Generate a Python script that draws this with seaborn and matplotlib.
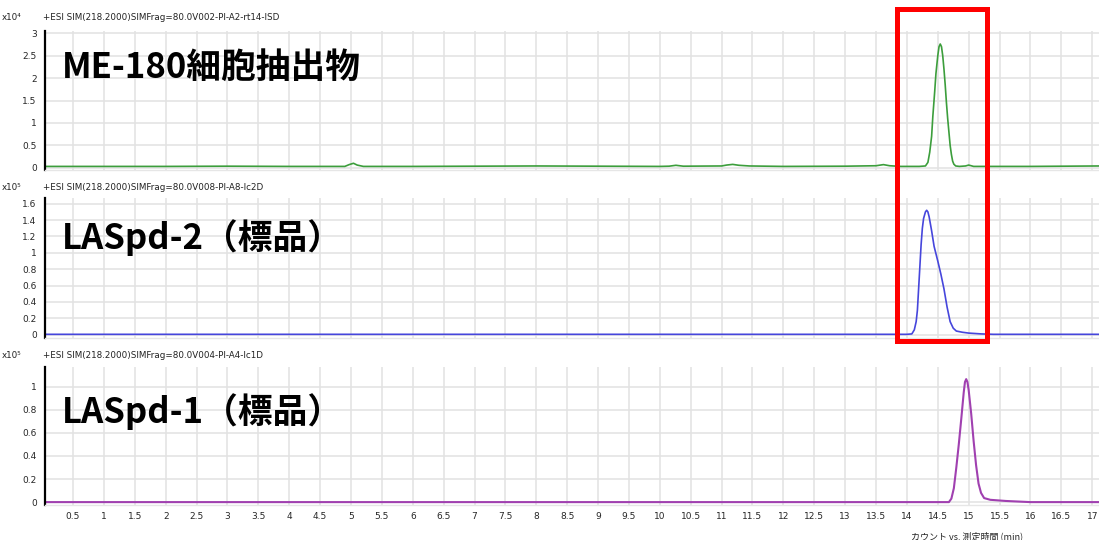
import numpy as np
import pandas as pd
import matplotlib
matplotlib.use("Agg")
import matplotlib.pyplot as plt
from matplotlib.patches import Rectangle
import seaborn as sns

# ---------------- data ----------------
# Panel 1: ME-180 cell extract, intensity in x10^4 counts
t_me180 = [0.05, 1.0, 2.0, 3.0, 4.0, 4.9, 4.97, 5.04, 5.1, 5.2, 6.0, 7.0, 8.0, 9.0, 10.0,
           10.15, 10.26, 10.38, 11.0, 11.08, 11.18, 11.28, 11.45, 12.0, 13.0, 13.5, 13.62,
           13.72, 13.9, 14.2, 14.3, 14.34, 14.37, 14.4, 14.42, 14.45, 14.47, 14.5, 14.52,
           14.54, 14.56, 14.58, 14.6, 14.62, 14.64, 14.66, 14.68, 14.7, 14.72, 14.74, 14.76,
           14.79, 14.85, 14.95, 15.0, 15.08, 16.0, 17.11]
y_me180 = [0.03, 0.03, 0.03, 0.035, 0.03, 0.03, 0.07, 0.1, 0.06, 0.03, 0.03, 0.035, 0.04, 0.035, 0.03,
           0.035, 0.055, 0.035, 0.04, 0.06, 0.075, 0.055, 0.04, 0.03, 0.035, 0.045, 0.07,
           0.045, 0.03, 0.03, 0.04, 0.12, 0.35, 0.7, 1.15, 1.7, 2.1, 2.5, 2.7,
           2.76, 2.7, 2.5, 2.2, 1.85, 1.45, 1.1, 0.8, 0.5, 0.3, 0.15, 0.08,
           0.04, 0.03, 0.04, 0.06, 0.03, 0.03, 0.04]

# Panel 2: LASpd-2 standard, intensity in x10^5 counts
t_laspd2 = [0.05, 2.0, 4.0, 6.0, 8.0, 10.0, 12.0, 14.0, 14.08, 14.12, 14.15, 14.17, 14.2, 14.23,
            14.25, 14.27, 14.3, 14.32, 14.34, 14.36, 14.4, 14.44, 14.5, 14.55, 14.6, 14.65, 14.7,
            14.75, 14.8, 14.9, 15.0, 15.2, 15.4, 16.0, 17.11]
y_laspd2 = [0.005, 0.005, 0.005, 0.005, 0.005, 0.005, 0.005, 0.005, 0.01, 0.06, 0.16, 0.3, 0.7, 1.1,
            1.3, 1.42, 1.5, 1.52, 1.5, 1.44, 1.27, 1.08, 0.9, 0.74, 0.56, 0.34, 0.16,
            0.08, 0.045, 0.03, 0.02, 0.01, 0.005, 0.005, 0.005]

# Panel 3: LASpd-1 standard, intensity in x10^5 counts
t_laspd1 = [0.05, 2.0, 4.0, 6.0, 8.0, 10.0, 12.0, 14.0, 14.68, 14.72, 14.76, 14.8, 14.84,
            14.88, 14.92, 14.94, 14.96, 14.98, 15.0, 15.04, 15.08, 15.12, 15.16, 15.2, 15.25,
            15.35, 15.6, 16.0, 17.11]
y_laspd1 = [0.0, 0.0, 0.0, 0.0, 0.0, 0.0, 0.0, 0.0, 0.0, 0.03, 0.12, 0.3, 0.5,
            0.72, 0.95, 1.04, 1.065, 1.04, 0.97, 0.77, 0.53, 0.32, 0.16, 0.08, 0.035,
            0.02, 0.01, 0.0, 0.0]

sample_labels = ["ME-180細胞抽出物", "LASpd-2（標品）", "LASpd-1（標品）"]
trace_titles = ["+ESI SIM(218.2000)SIMFrag=80.0V002-PI-A2-rt14-ISD",
                "+ESI SIM(218.2000)SIMFrag=80.0V008-PI-A8-lc2D",
                "+ESI SIM(218.2000)SIMFrag=80.0V004-PI-A4-lc1D"]
scale_labels = ["x10⁴", "x10⁵", "x10⁵"]
ytick_sets = [[0, 0.5, 1, 1.5, 2, 2.5, 3],
              [0, 0.2, 0.4, 0.6, 0.8, 1.0, 1.2, 1.4, 1.6],
              [0, 0.2, 0.4, 0.6, 0.8, 1.0]]
ylims = [(-0.05, 3.05), (-0.04, 1.67), (-0.025, 1.17)]
xticks = [0.5 * k for k in range(1, 35)]
xlabel = "カウント vs. 測定時間 (min)"
highlight_window = (13.84, 15.30)   # minutes, red box
line_colors = ["#3c9e3c", "#4646dc", "#a040b0"]

# ---------------- style ----------------
sns.set_style("white")
plt.rcParams['font.family'] = ['Noto Sans CJK JP', 'DejaVu Sans']

W, H = 1099, 540
fig = plt.figure(figsize=(W / 100, H / 100), dpi=100)

def pos(top, bottom, left=45, right=1099):
    return [left / W, 1 - bottom / H, (right - left) / W, (bottom - top) / H]

panels = [(31, 170), (198, 338), (367, 505)]
axes = [fig.add_axes(pos(*p)) for p in panels]

frames = [pd.DataFrame({"t": t_me180, "y": y_me180}),
          pd.DataFrame({"t": t_laspd2, "y": y_laspd2}),
          pd.DataFrame({"t": t_laspd1, "y": y_laspd1})]
lws = [1.2, 1.2, 1.5]
title_off = [14, 10, 12]

def fmt(v):
    return f"{v:g}"

xmin, xmax = 0.046, 17.11
for i, ax in enumerate(axes):
    sns.lineplot(data=frames[i], x="t", y="y", ax=ax, color=line_colors[i],
                 lw=lws[i], estimator=None, sort=False)
    ax.set_xlim(xmin, xmax)
    ax.set_ylim(*ylims[i])
    ax.set_xticks(xticks)
    ax.set_yticks(ytick_sets[i])
    ax.set_yticklabels([fmt(v) for v in ytick_sets[i]], fontsize=6.5, family='DejaVu Sans')
    ax.grid(True, color="#e2e2e2", lw=1.1)
    ax.set_axisbelow(True)
    for s in ["top", "right"]:
        ax.spines[s].set_visible(False)
    ax.spines["bottom"].set_color("#e6e6e6")
    ax.spines["bottom"].set_linewidth(1.0)
    ax.spines["left"].set_color("black")
    ax.spines["left"].set_linewidth(1.6)
    ax.tick_params(axis="y", direction="out", length=4, width=1.2, color="black", pad=2)
    ax.set_xlabel("")
    ax.set_ylabel("")
    if i < 2:
        ax.tick_params(axis="x", length=0, labelbottom=False)
    else:
        ax.set_xticklabels([fmt(v) for v in xticks], fontsize=6.5, family='DejaVu Sans')
        ax.tick_params(axis="x", direction="out", length=3, width=0.8, color="#666666", pad=2)
        ax.set_xlabel(xlabel, fontsize=6.5, labelpad=1)
        ax.xaxis.set_label_coords((967 - 45) / (1099 - 45), -0.19)
    # instrument header & scale
    ax.annotate(trace_titles[i], xy=(0, 1), xycoords="axes fraction",
                xytext=(-1.5, title_off[i] * 0.72), textcoords="offset points",
                fontsize=6.3, va="center", ha="left", family='DejaVu Sans', color="#222222")
    ax.annotate(scale_labels[i], xy=(0, 1), xycoords="axes fraction",
                xytext=(-31, title_off[i] * 0.72), textcoords="offset points",
                fontsize=6.3, va="center", ha="left", family='DejaVu Sans', color="#222222")

# big sample labels
label_y = [(170 - 67) / 139, (338 - 238) / 140, (505 - 412) / 138]
for ax, lab, yy in zip(axes, sample_labels, label_y):
    ax.text(0.016, yy, lab, transform=ax.transAxes, fontsize=25, fontweight="bold",
            va="center", ha="left", color="black")

# red highlight box across the first two panels
ax_l, ax_w = 45 / W, (1099 - 45) / W
x0 = ax_l + (highlight_window[0] - xmin) / (xmax - xmin) * ax_w
x1 = ax_l + (highlight_window[1] - xmin) / (xmax - xmin) * ax_w
y_top, y_bot = 1 - 9.2 / H, 1 - 340.8 / H
fig.patches.append(Rectangle((x0, y_bot), x1 - x0, y_top - y_bot, transform=fig.transFigure,
                             fill=False, edgecolor="#ff0000", lw=3.6, zorder=10))

fig.savefig("out.png", dpi=100)
